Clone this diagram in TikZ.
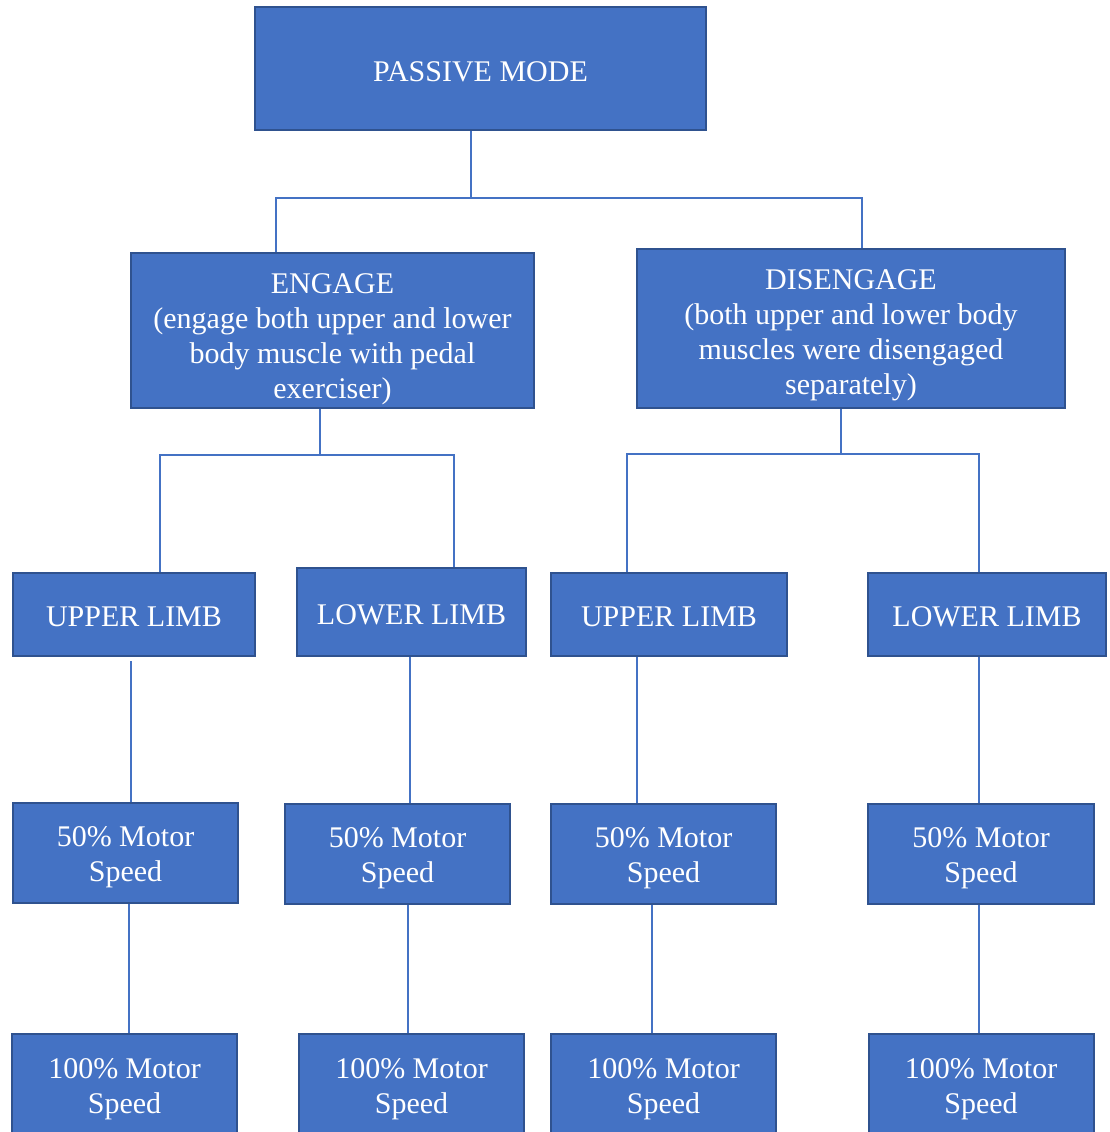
\documentclass[tikz,border=0pt]{standalone}
\usepackage{fontspec}
\setmainfont{Liberation Serif}
\usepackage{xcolor}
\usetikzlibrary{calc}
\definecolor{boxfill}{HTML}{4472C4}
\definecolor{boxline}{HTML}{2F528F}
% lower the text inside a box without changing the box
\newcommand{\boxtext}[2]{\raisebox{-#1}[\height][\depth]{\begin{tabular}{@{}c@{}}#2\end{tabular}}}

\begin{document}
\begin{tikzpicture}[x=0.75pt, y=-0.75pt,
    every node/.style={font=\fontsize{22.5}{26.25}\selectfont},
    modebox/.style={draw=boxline, line width=1.5pt, fill=boxfill, text=white, inner sep=0pt},
    link/.style={draw=boxfill, line width=1.6pt}]
  \useasboundingbox (0,0) rectangle (1110,1132);
  % top level
  \node[modebox, minimum width=338.25pt, minimum height=92.25pt] (passive) at (480.5,68.5) {\boxtext{4.5pt}{PASSIVE MODE}};
  \node[modebox, minimum width=302.25pt, minimum height=116.25pt] (engage) at (332.5,330.5) {\boxtext{6pt}{ENGAGE\\(engage both upper and lower\\body muscle with pedal\\exerciser)}};
  \node[modebox, minimum width=321pt, minimum height=119.25pt] (disengage) at (851,328.5) {\boxtext{4.5pt}{DISENGAGE\\(both upper and lower body\\muscles were disengaged\\separately)}};
  % limbs
  \node[modebox, minimum width=181.5pt, minimum height=62.25pt] (upperA) at (134,614.5) {\boxtext{3.75pt}{UPPER LIMB}};
  \node[modebox, minimum width=171.75pt, minimum height=66pt] (lowerA) at (411.5,612) {\boxtext{3.75pt}{LOWER LIMB}};
  \node[modebox, minimum width=177pt, minimum height=62.25pt] (upperB) at (669,614.5) {\boxtext{3.75pt}{UPPER LIMB}};
  \node[modebox, minimum width=178.5pt, minimum height=62.25pt] (lowerB) at (987,614.5) {\boxtext{3.75pt}{LOWER LIMB}};
  % motor speeds
  \node[modebox, minimum width=168.75pt, minimum height=75pt] (halfA) at (125.5,853) {\boxtext{3pt}{50\% Motor\\Speed}};
  \node[modebox, minimum width=168.75pt, minimum height=75pt] (halfB) at (397.5,854) {\boxtext{3pt}{50\% Motor\\Speed}};
  \node[modebox, minimum width=168.75pt, minimum height=75pt] (halfC) at (663.5,853.5) {\boxtext{3pt}{50\% Motor\\Speed}};
  \node[modebox, minimum width=169.5pt, minimum height=75pt] (halfD) at (981,853.5) {\boxtext{3pt}{50\% Motor\\Speed}};
  \node[modebox, minimum width=168.75pt, minimum height=75pt] (fullA) at (124.5,1084) {\boxtext{3.75pt}{100\% Motor\\Speed}};
  \node[modebox, minimum width=168.75pt, minimum height=75pt] (fullB) at (411.5,1084) {\boxtext{3.75pt}{100\% Motor\\Speed}};
  \node[modebox, minimum width=168.75pt, minimum height=75pt] (fullC) at (663.5,1084) {\boxtext{3.75pt}{100\% Motor\\Speed}};
  \node[modebox, minimum width=168.75pt, minimum height=75pt] (fullD) at (981,1084) {\boxtext{3.75pt}{100\% Motor\\Speed}};

  % branches
  \coordinate (busTop) at (471,198);
  \coordinate (busEng) at (320,455);
  \coordinate (busDis) at (841,454);
  \draw[link] (passive.south -| busTop) -- (busTop) -| (engage.north -| 276,0);
  \draw[link] (busTop) -| (disengage.north -| 862,0);
  \draw[link] (engage.south -| busEng) -- (busEng) -| (upperA.north -| 160,0);
  \draw[link] (busEng) -| (lowerA.north -| 454,0);
  \draw[link] (disengage.south -| busDis) -- (busDis) -| (upperB.north -| 627,0);
  \draw[link] (busDis) -| (lowerB.north -| 979,0);
  % limb to speed
  \draw[link] ($(upperA.south -| 131,0)+(0,4)$) -- (halfA.north -| 131,0);
  \draw[link] (lowerA.south -| 410,0) -- (halfB.north -| 410,0);
  \draw[link] (upperB.south -| 637,0) -- (halfC.north -| 637,0);
  \draw[link] (lowerB.south -| 979,0) -- (halfD.north -| 979,0);
  \draw[link] (halfA.south -| 129,0) -- (fullA.north -| 129,0);
  \draw[link] (halfB.south -| 408,0) -- (fullB.north -| 408,0);
  \draw[link] (halfC.south -| 652,0) -- (fullC.north -| 652,0);
  \draw[link] (halfD.south -| 979,0) -- (fullD.north -| 979,0);
\end{tikzpicture}
\end{document}
